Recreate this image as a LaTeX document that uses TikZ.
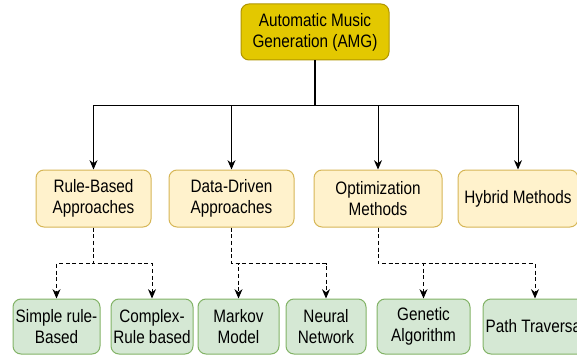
\documentclass[tikz,border=0pt]{standalone}
\usepackage{fontspec}
\setmainfont{Liberation Sans}[FakeStretch=0.85]
\usepackage{tikz}
\usepackage{xcolor}
\usetikzlibrary{arrows.meta}

\definecolor{amgfill}{RGB}{227,200,0}
\definecolor{amgdraw}{RGB}{176,149,0}
\definecolor{catfill}{RGB}{255,242,204}
\definecolor{catdraw}{RGB}{214,182,86}
\definecolor{leaffill}{RGB}{213,232,212}
\definecolor{leafdraw}{RGB}{130,179,102}

\tikzset{
  box/.style={rounded corners=6pt, line width=0.75pt, align=center, inner sep=0pt,
    font=\fontsize{13.5}{15.6}\selectfont},
  rootbox/.style={box, fill=amgfill, draw=amgdraw, minimum width=111pt, minimum height=42pt},
  catbox/.style={box, fill=catfill, draw=catdraw, minimum height=42.75pt},
  leafbox/.style={box, fill=leaffill, draw=leafdraw, minimum height=41.25pt},
  solidarr/.style={line width=0.75pt, -{Stealth[length=7pt,width=6pt]}},
  dasharr/.style={line width=0.75pt, dash pattern={on 3pt off 2pt}, -{Stealth[length=7pt,width=6pt]}}
}

\begin{document}
\begin{tikzpicture}[x=0.75pt,y=0.75pt,yscale=-1,xscale=1]
\useasboundingbox (0,0) rectangle (577,356);

%Shape: Root
\node[rootbox] (amg) at (315,32) {Automatic Music\\Generation (AMG)};

%Shape: Categories
\node[catbox, minimum width=86.25pt] (rule) at (93.5,198.5) {Rule-Based\\Approaches};
\node[catbox, minimum width=93.75pt] (data) at (231.5,198.5) {Data-Driven\\Approaches};
\node[catbox, minimum width=96pt] (opt) at (378,198.5) {Optimization\\Methods};
\node[catbox, minimum width=90pt] (hyb) at (518,198.5) {Hybrid Methods};

%Shape: Leaves
\node[leafbox, minimum width=65.25pt] (simple) at (56.5,326.5) {Simple rule-\\Based};
\node[leafbox, minimum width=61.5pt] (complex) at (152,326.5) {Complex-\\Rule based};
\node[leafbox, minimum width=60.75pt] (markov) at (238.5,326.5) {Markov\\Model};
\node[leafbox, minimum width=60pt] (neural) at (326,326.5) {Neural\\Network};
\node[leafbox, minimum width=69.75pt] (genetic) at (423.5,326.5) {Genetic\\Algorithm};
\node[leafbox, minimum width=78pt] (path) at (535,326.5) {Path Traversal};

%Straight Lines: root to categories
\coordinate (split) at (315,106);
\draw [line width=2pt] (amg.south) -- (split);
\draw [solidarr] (split) -| (rule.north);
\draw [solidarr] (split) -| (data.north);
\draw [solidarr] (split) -| (opt.north);
\draw [solidarr] (split) -| (hyb.north);

%Straight Lines: categories to leaves
\draw [dasharr] (rule.south) -- ++(0,36) -| (simple.north);
\draw [dasharr] (rule.south) -- ++(0,36) -| (complex.north);
\draw [dasharr] (data.south) -- ++(0,36) -| (markov.north);
\draw [dasharr] (data.south) -- ++(0,36) -| (neural.north);
\draw [dasharr] (opt.south) -- ++(0,36) -| (genetic.north);
\draw [dasharr] (opt.south) -- ++(0,36) -| (path.north);

\end{tikzpicture}
\end{document}
